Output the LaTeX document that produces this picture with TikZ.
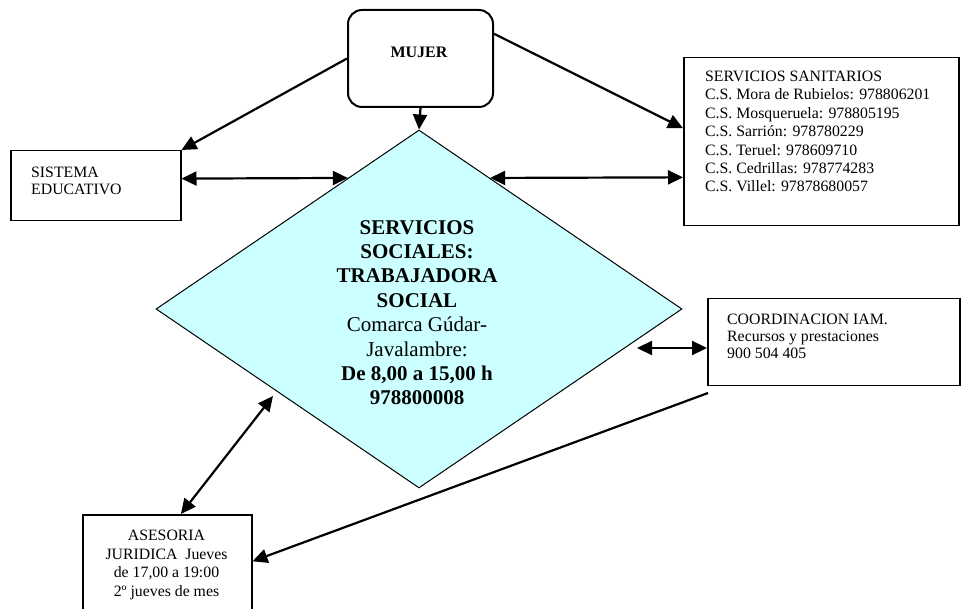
\documentclass[tikz,border=0pt]{standalone}
\usepackage{fontspec}
\setmainfont{Liberation Serif}
\usetikzlibrary{arrows.meta,shapes.geometric,calc}
\definecolor{cyanfill}{RGB}{204,255,255}
\begin{document}
\begin{tikzpicture}[x=1pt,y=-1pt,
  box/.style={draw,line width=1.5pt,inner sep=0pt,anchor=north west},
  lbl/.style={inner sep=0pt,font=\fontsize{15.8}{18.4}\selectfont,align=left,anchor=north west},
  conn/.style={line width=2.2pt,-{Triangle[length=15pt,width=14pt]}},
  conn2/.style={line width=2.2pt,{Triangle[length=15pt,width=14pt]}-{Triangle[length=15pt,width=14pt]}}]
\useasboundingbox (0,0) rectangle (961,609);

% central diamond
\node[diamond,draw,line width=1pt,fill=cyanfill,minimum width=526pt,minimum height=358pt,inner sep=0pt] (ss) at (419,309) {};
\node[inner sep=0pt,anchor=north,align=center,font=\fontsize{21}{24.4}\selectfont] (sst) at (417,220)
  {\textbf{SERVICIOS}\\\textbf{SOCIALES:}\\\textbf{TRABAJADORA}\\\textbf{SOCIAL}\\Comarca Gúdar-\\Javalambre:\\\textbf{De 8,00 a 15,00 h}\\\textbf{978800008}};

% MUJER
\node[box,minimum width=145pt,minimum height=97pt,rounded corners=14pt,line width=2pt] (mujer) at (347,9) {};
\node[inner sep=0pt,font=\bfseries\fontsize{16}{19}\selectfont] (mujert) at (419,52) {MUJER};

% SISTEMA EDUCATIVO
\node[box,minimum width=170pt,minimum height=70pt] (sis) at (10,150) {};
\node[lbl,font=\fontsize{15.8}{17.2}\selectfont] (sist) at (31,166.8) {SISTEMA\\EDUCATIVO};

% SERVICIOS SANITARIOS
\node[box,minimum width=275pt,minimum height=168pt] (san) at (683,57) {};
\node[lbl] (sant) at (705,70.8) {SERVICIOS SANITARIOS\\C.S. Mora de Rubielos: 978806201\\C.S. Mosqueruela: 978805195\\C.S. Sarrión: 978780229\\C.S. Teruel: 978609710\\C.S. Cedrillas: 978774283\\C.S. Villel: 97878680057};

% COORDINACION IAM
\node[box,minimum width=252pt,minimum height=87pt] (coord) at (707,298) {};
\node[lbl,font=\fontsize{15.8}{17.3}\selectfont] (coordt) at (727,313.7) {COORDINACION IAM.\\Recursos y prestaciones\\900 504 405};

% ASESORIA JURIDICA
\node[box,minimum width=169pt,minimum height=95pt] (ase) at (82,514) {};
\node[lbl,align=center,anchor=north,font=\fontsize{15.8}{18.7}\selectfont] (aset) at (166.5,529.8) {ASESORIA\\JURIDICA\ \ Jueves\\de 17,00 a 19:00\\2º jueves de mes};

% connectors
\draw[conn] (mujer.south) -- (ss.north);
\draw[conn] (mujer.west) -- (sis.north east);
\draw[conn] ($(mujer.north east)!0.25!(mujer.south east)$) -- ($(san.north west)!0.42!(san.south west)$);
\draw[conn2] ($(sis.north east)!0.4!(sis.south east)$) -- ($(ss.west)!0.73!(ss.north)$);
\draw[conn2] ($(ss.north)!0.27!(ss.east)$) -- ($(san.north west)!0.71!(san.south west)$);
\coordinate (cl) at (637,348);
\draw[conn2] (cl) -- (coord.west |- cl);
\coordinate (al) at (273,396);
\draw[conn2] (al) -- ($(ase.north west)!0.58!(ase.north east)$);
\coordinate (cf) at (708,393);
\draw[conn] (cf) -- ($(ase.north east)!0.49!(ase.south east)$);
\end{tikzpicture}
\end{document}
